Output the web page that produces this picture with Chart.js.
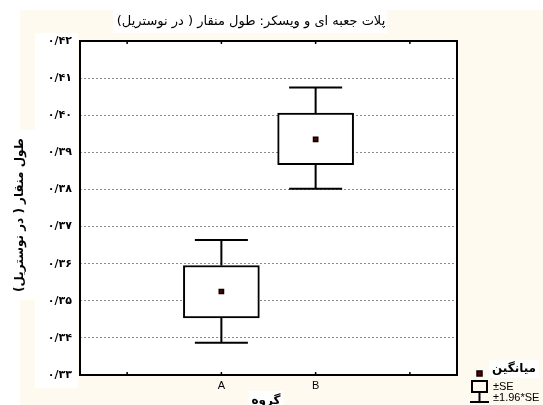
<!DOCTYPE html>
<html>
<head>
<meta charset="utf-8">
<script src="https://cdn.jsdelivr.net/npm/chart.js@4/dist/chart.umd.min.js"></script>
<style>
  html, body { margin: 0; padding: 0; background: #fff; }
  #wrap { width: 543px; height: 405px; }
</style>
</head>
<body>
<div id="wrap"><canvas id="box-chart" width="543" height="405"></canvas></div>
<script>
var groups = ['A', 'B'];
var groupPos = [0, 1];
var means = [0.3525, 0.3935];
var seLow = [0.3454, 0.3867];
var seHigh = [0.3595, 0.4006];
var ciLow = [0.3387, 0.3802];
var ciHigh = [0.3664, 0.4075];
var yTicks = [0.33, 0.34, 0.35, 0.36, 0.37, 0.38, 0.39, 0.40, 0.41, 0.42];

var titleText = 'پلات جعبه ای و ویسکر: طول منقار ( در نوستریل)';
var yTitle = 'طول منقار ( در نوستریل)';
var xTitle = 'گروه';
var legendMean = 'میانگین';

var faDigits = '۰۱۲۳۴۵۶۷۸۹';
function toFa(v) {
  var s = v.toFixed(2).replace('.', '/');
  return s.replace(/[0-9]/g, function(d) { return faDigits[+d]; });
}

var arabicFont = '"DejaVu Sans", sans-serif';
var latinFont = '"Liberation Sans", Arial, sans-serif';

var decor = {
  id: 'decor',
  beforeDraw: function(chart) {
    var c = chart.ctx, a = chart.chartArea;
    c.save();
    c.fillStyle = '#ffffff';
    c.fillRect(0, 0, chart.width, chart.height);
    c.fillStyle = '#FFFAF0';
    c.fillRect(20, 10, chart.width - 20, chart.height - 10);
    c.fillStyle = '#ffffff';
    c.fillRect(113, 10, 274, 23);          // title backdrop
    c.fillRect(35, 33, 43, 355);           // tick labels backdrop
    c.fillRect(8, 130, 27, 170);           // y title backdrop
    c.fillRect(a.left, a.top, a.right - a.left, a.bottom - a.top);
    c.restore();
  },
  beforeDatasetsDraw: function(chart) {
    var c = chart.ctx, xs = chart.scales.x, ys = chart.scales.y;
    c.save();
    c.strokeStyle = '#000';
    c.lineWidth = 2;
    for (var i = 0; i < groups.length; i++) {
      var x = xs.getPixelForValue(groupPos[i]);
      var half = 26.5;
      c.beginPath();
      c.moveTo(x, ys.getPixelForValue(ciHigh[i]));
      c.lineTo(x, ys.getPixelForValue(seHigh[i]));
      c.moveTo(x, ys.getPixelForValue(seLow[i]));
      c.lineTo(x, ys.getPixelForValue(ciLow[i]));
      c.moveTo(x - half, ys.getPixelForValue(ciHigh[i]));
      c.lineTo(x + half, ys.getPixelForValue(ciHigh[i]));
      c.moveTo(x - half, ys.getPixelForValue(ciLow[i]));
      c.lineTo(x + half, ys.getPixelForValue(ciLow[i]));
      c.stroke();
    }
    c.restore();
  },
  afterDraw: function(chart) {
    var c = chart.ctx, a = chart.chartArea, xs = chart.scales.x;
    c.save();
    // plot frame
    c.strokeStyle = '#000';
    c.lineWidth = 2;
    c.strokeRect(a.left, a.top, a.right - a.left, a.bottom - a.top);
    // inward ticks on top and bottom
    c.lineWidth = 1.5;
    [-1, 0, 1, 2].forEach(function(v) {
      var x = xs.getPixelForValue(v);
      c.beginPath();
      c.moveTo(x, a.top); c.lineTo(x, a.top + 3);
      c.moveTo(x, a.bottom); c.lineTo(x, a.bottom - 3);
      c.stroke();
    });

    c.fillStyle = '#000';
    c.textAlign = 'center';
    c.textBaseline = 'middle';
    c.font = '13px ' + arabicFont;
    c.fillText(titleText, 251, 22);

    c.font = 'bold 12px ' + arabicFont;
    c.save();
    c.translate(20, 215);
    c.rotate(-Math.PI / 2);
    c.fillText(yTitle, 0, 0);
    c.restore();

    var w = c.measureText(xTitle).width;
    c.fillStyle = '#fff';
    c.fillRect(266 - w / 2 - 3, 391, w + 6, 14);
    c.fillStyle = '#000';
    c.fillText(xTitle, 266, 401);

    // legend
    c.font = 'bold 12px ' + arabicFont;
    var lw = c.measureText(legendMean).width;
    c.fillStyle = '#fff';
    c.fillRect(489, 360, lw + 6, 18);
    c.fillStyle = '#000';
    c.textAlign = 'left';
    c.fillText(legendMean, 492, 369);

    c.fillStyle = '#5a0000';
    c.strokeStyle = '#000';
    c.lineWidth = 1.5;
    c.fillRect(477, 371, 5, 5);
    c.strokeRect(477, 371, 5, 5);

    c.lineWidth = 2;
    c.strokeRect(472, 381, 15, 11);
    c.beginPath();
    c.moveTo(479.5, 392); c.lineTo(479.5, 402);
    c.moveTo(470, 402); c.lineTo(489, 402);
    c.stroke();

    c.fillStyle = '#000';
    c.font = '11px ' + latinFont;
    c.fillText('±SE', 493, 387);
    c.fillText('±1.96*SE', 493, 398);
    c.restore();
  }
};

var ctx = document.getElementById('box-chart');

new Chart(ctx, {
  type: 'bar',
  data: {
    datasets: [{
      type: 'bar',
      data: groupPos.map(function(p, i) { return { x: p, y: [seLow[i], seHigh[i]] }; }),
      backgroundColor: '#ffffff',
      borderColor: '#000000',
      borderWidth: 2,
      borderSkipped: false,
      barThickness: 76,
      order: 2
    }, {
      type: 'scatter',
      data: groupPos.map(function(p, i) { return { x: p, y: means[i] }; }),
      pointStyle: 'rect',
      radius: 3,
      backgroundColor: '#5a0000',
      borderColor: '#000000',
      borderWidth: 1.5,
      order: 1
    }]
  },
  plugins: [decor],
  options: {
    responsive: false,
    animation: false,
    layout: { padding: { left: 0, top: 41, right: 86, bottom: 0 } },
    plugins: {
      legend: { display: false },
      tooltip: { enabled: false }
    },
    scales: {
      x: {
        type: 'linear',
        offset: false,
        min: -1.5,
        max: 2.5,
        afterFit: function(s) { s.height = 30; },
        afterBuildTicks: function(s) {
          s.ticks = [-1, 0, 1, 2].map(function(v) { return { value: v }; });
        },
        ticks: {
          color: '#000',
          padding: 4,
          font: { family: latinFont, size: 11 },
          callback: function(v) {
            var i = groupPos.indexOf(v);
            return i >= 0 ? groups[i] : '';
          }
        },
        grid: { display: false, drawTicks: false, offset: false },
        border: { display: false }
      },
      y: {
        min: 0.33,
        max: 0.42,
        afterFit: function(s) { s.width = 80; },
        afterBuildTicks: function(s) {
          s.ticks = yTicks.map(function(v) { return { value: v }; });
        },
        ticks: {
          color: '#000',
          padding: 8,
          font: { family: arabicFont, size: 11, weight: 'bold' },
          callback: function(v) { return toFa(v); }
        },
        grid: { color: '#8a8a8a', lineWidth: 1, drawTicks: false },
        border: { display: false, dash: [2, 2] }
      }
    }
  }
});
</script>
</body>
</html>
